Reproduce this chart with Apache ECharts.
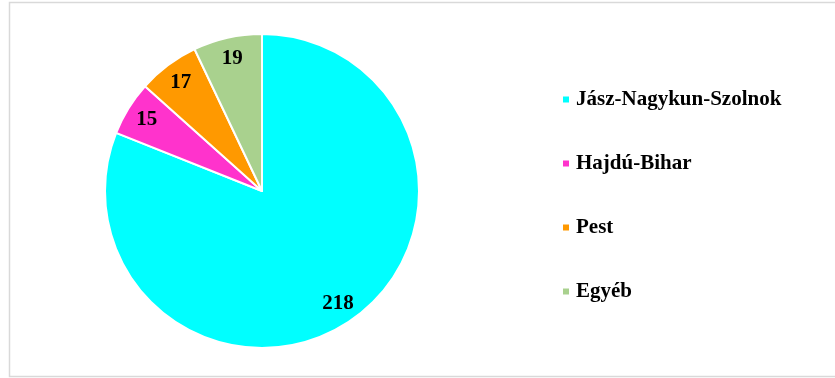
<!DOCTYPE html>
<html><head><meta charset="utf-8">
<script src="https://cdn.jsdelivr.net/npm/echarts@6/dist/echarts.min.js"></script>
<style>html,body{margin:0;padding:0;background:#fff}#c{width:835px;height:378px}</style>
</head><body><div id="c"></div>
<script>
const categories = ["Jász-Nagykun-Szolnok", "Hajdú-Bihar", "Pest", "Egyéb"];
const values = [218, 15, 17, 19];
const colors = ["#00FFFF", "#FF33CC", "#FF9900", "#A9D18E"];

const data = categories.map((n, i) => ({ name: n, value: values[i], itemStyle: { color: colors[i] } }));
const labelData = categories.map((n, i) => ({ name: n, value: values[i] }));
const font = "'Liberation Serif', 'Times New Roman', serif";

const chart = echarts.init(document.getElementById('c'), null, { renderer: 'canvas' });
chart.setOption({
  animation: false,
  backgroundColor: '#fff',
  graphic: [{
    type: 'rect', shape: { x: 9.5, y: 2.5, width: 840, height: 374 },
    style: { fill: 'none', stroke: '#d9d9d9', lineWidth: 1.5 }, silent: true, z: -1
  }],
  legend: {
    orient: 'vertical', left: 556, top: 84, itemGap: 43,
    itemWidth: 8, itemHeight: 8, icon: 'rect',
    data: categories,
    textStyle: { fontFamily: font, fontWeight: 'bold', fontSize: 21, lineHeight: 21, color: '#000', padding: [0, 0, 0, 1] }
  },
  series: [{
    type: 'pie', center: [262, 191], radius: [0, 157], startAngle: 90, clockwise: true,
    data: data, label: { show: false }, labelLine: { show: false },
    itemStyle: { borderColor: '#fff', borderWidth: 2 },
    emphasis: { disabled: true }
  }, {
    type: 'pie', center: [262, 191], radius: [108, 157], startAngle: 90, clockwise: true,
    data: labelData, silent: true,
    itemStyle: { color: 'rgba(0,0,0,0)' },
    label: { show: true, position: 'inside', formatter: '{c}', fontFamily: font, fontWeight: 'bold', fontSize: 21, color: '#000' },
    labelLine: { show: false }, emphasis: { disabled: true }
  }]
});
</script></body></html>
